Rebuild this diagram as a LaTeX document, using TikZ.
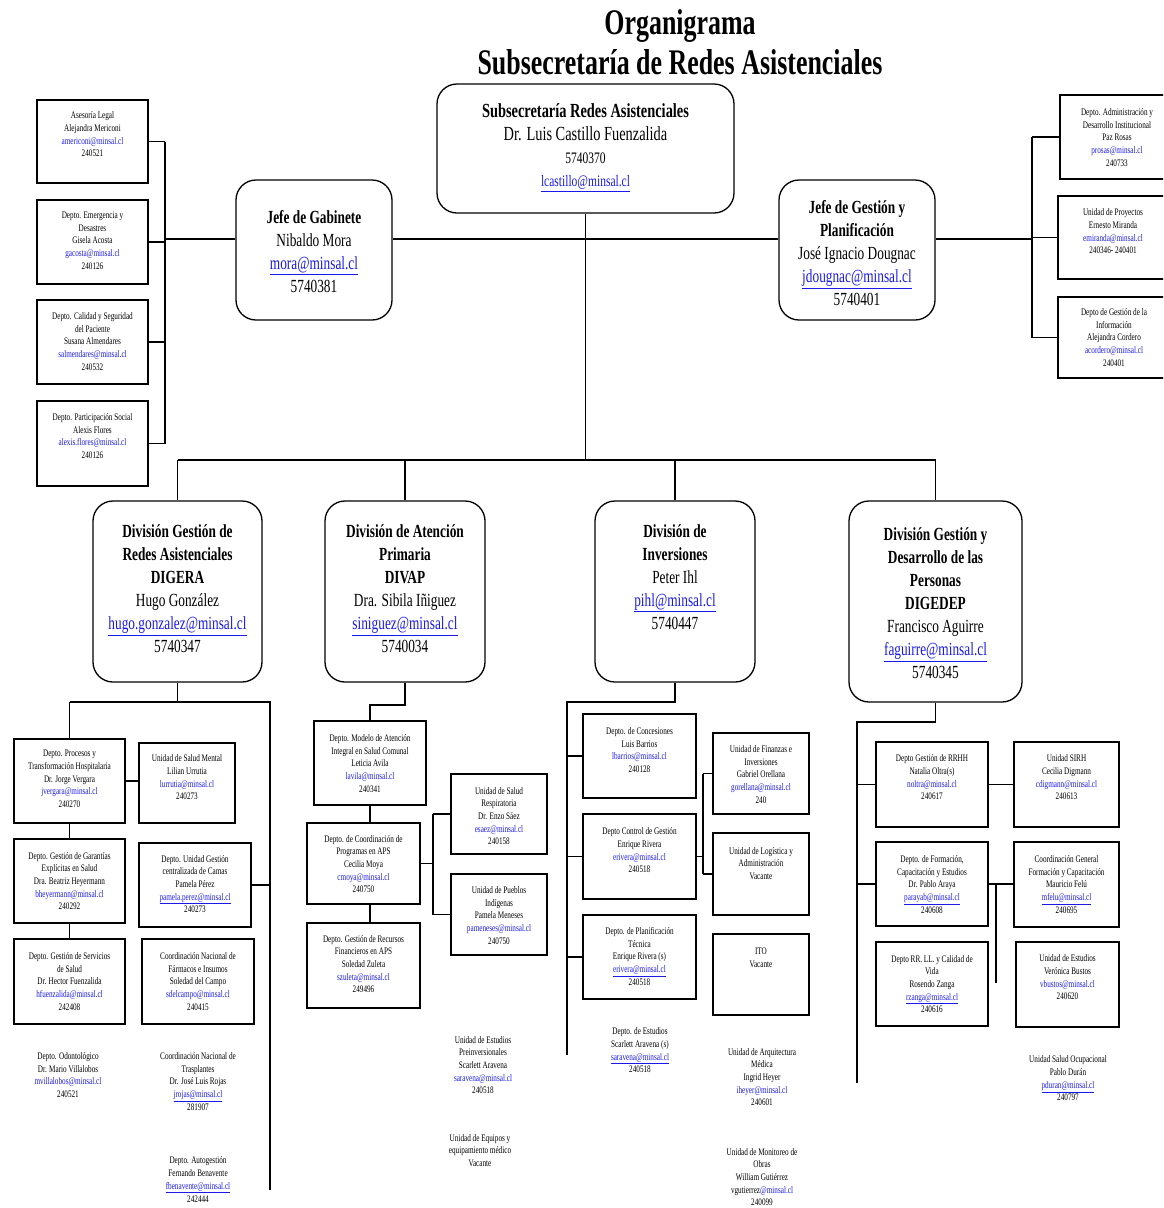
\documentclass[tikz,border=0pt]{standalone}
\usepackage{fontspec}
\setmainfont{Liberation Serif}
\newfontfamily\cf[FakeStretch=0.72]{Liberation Serif}
\definecolor{mailblue}{RGB}{25,25,235}
\newcommand{\ml}[1]{\textcolor{mailblue}{#1}}
\newcommand{\mlu}[1]{\textcolor{mailblue}{\underline{#1}}}
\newcommand{\sfnt}{\cf\fontsize{10}{12.7}\selectfont}
\newcommand{\bfnt}{\cf\fontsize{18.5}{23}\selectfont}
\newcommand{\obox}[7]{%
  \node[sbox, minimum width={#4pt-#2pt}, minimum height={#5pt-#3pt}] (#1) at ({(#2+#4)/2},{(#3+#5)/2}) {};
  \node[stxt] (#1t) at ({(#2+#4)/2},#6) {#7};}
\newcommand{\rbx}[7]{%
  \node[rbox, minimum width={#4pt-#2pt}, minimum height={#5pt-#3pt}] (#1) at ({(#2+#4)/2},{(#3+#5)/2}) {};
  \node[btxt] (#1t) at ({(#2+#4)/2},#6) {#7};}
\begin{document}
\begin{tikzpicture}[x=1pt,y=-1pt,
 sbox/.style={draw, line width=1.6pt, inner sep=0pt},
 rbox/.style={draw, line width=1.3pt, rounded corners=20pt, inner sep=0pt},
 stxt/.style={align=center, font=\sfnt, inner sep=0pt},
 btxt/.style={align=center, font=\bfnt, inner sep=0pt},
 conn/.style={line width=1.5pt}]
\useasboundingbox (0,0) rectangle (1163,1208);
\clip (0,0) rectangle (1163,1208);

\node[font=\cf\fontsize{36}{40}\selectfont\bfseries, align=center, inner sep=0pt] (title) at (680,42) {Organigrama\\Subsecretaría de Redes Asistenciales};

% ---- top level
\rbx{sub}{437}{84}{734}{213}{147.5}{{\fontsize{20}{23}\selectfont\bfseries Subsecretaría Redes Asistenciales}\\{\fontsize{20}{23}\selectfont Dr. Luis Castillo Fuenzalida}\\{\fontsize{16}{23}\selectfont 5740370}\\{\fontsize{16}{23}\selectfont\mlu{lcastillo@minsal.cl}}}
\rbx{gab}{236}{180}{392}{320}{251.5}{{\bfseries Jefe de Gabinete}\\Nibaldo Mora\\\mlu{mora@minsal.cl}\\5740381}
\rbx{ges}{779}{180}{935}{320}{253.5}{{\bfseries Jefe de Gestión y}\\{\bfseries Planificación}\\José Ignacio Dougnac\\\mlu{jdougnac@minsal.cl}\\5740401}

\obox{ase}{37}{100}{148}{183}{134.5}{Asesoría Legal\\Alejandra Mericoni\\\ml{americoni@minsal.cl}\\240521}
\obox{eme}{37}{200}{148}{284}{240.5}{Depto. Emergencia y\\Desastres\\Gisela Acosta\\\ml{gacosta@minsal.cl}\\240126}
\obox{cal}{37}{300}{148}{384}{341.5}{Depto. Calidad y Seguridad\\del Paciente\\Susana Almendares\\\ml{salmendares@minsal.cl}\\240532}
\obox{par}{37}{401}{148}{486}{436}{Depto. Participación Social\\Alexis Flores\\\ml{alexis.flores@minsal.cl}\\240126}

\obox{adm}{1060}{95}{1174}{179}{137.5}{Depto. Administración y\\Desarrollo Institucional\\Paz Rosas\\\ml{prosas@minsal.cl}\\240733}
\obox{proy}{1058}{196}{1168}{279}{231.5}{Unidad de Proyectos\\Ernesto Miranda\\\ml{emiranda@minsal.cl}\\240346- 240401}
\obox{gi}{1058}{297}{1170}{378}{337.5}{Depto de Gestión de la\\Información\\Alejandra Cordero\\\ml{acordero@minsal.cl}\\240401}

% ---- divisions
\rbx{digera}{93}{501}{262}{682}{588.5}{{\bfseries División Gestión de}\\{\bfseries Redes Asistenciales}\\{\bfseries DIGERA}\\Hugo González\\\mlu{hugo.gonzalez@minsal.cl}\\5740347}
\rbx{divap}{325}{501}{485}{682}{588.5}{{\bfseries División de Atención}\\{\bfseries Primaria}\\{\bfseries DIVAP}\\Dra. Sibila Iñiguez\\\mlu{siniguez@minsal.cl}\\5740034}
\rbx{inv}{595}{501}{755}{682}{577}{{\bfseries División de}\\{\bfseries Inversiones}\\Peter Ihl\\\mlu{pihl@minsal.cl}\\5740447}
\rbx{digedep}{849}{501}{1022}{702}{603.5}{{\bfseries División Gestión y}\\{\bfseries Desarrollo de las}\\{\bfseries Personas}\\{\bfseries DIGEDEP}\\Francisco Aguirre\\\mlu{faguirre@minsal.cl}\\5740345}

% ---- DIGERA
\obox{proc}{14}{739}{125}{823}{779}{Depto. Procesos y\\Transformación Hospitalaria\\Dr. Jorge Vergara\\\ml{jvergara@minsal.cl}\\240270}
\obox{smen}{139}{743}{235}{823}{777.5}{Unidad de Salud Mental\\Lilian Urrutia\\\ml{lurrutia@minsal.cl}\\240273}
\obox{gar}{14}{839}{125}{923}{881}{Depto. Gestión de Garantías\\Explícitas en Salud\\Dra. Beatriz Heyermann\\\ml{bheyermann@minsal.cl}\\240292}
\obox{cam}{139}{843}{251}{927}{884}{Depto. Unidad Gestión\\centralizada de Camas\\Pamela Pérez\\\mlu{pamela.perez@minsal.cl}\\240273}
\obox{serv}{14}{939}{125}{1024}{981.5}{Depto. Gestión de Servicios\\de Salud\\Dr. Hector Fuenzalida\\\ml{hfuenzalida@minsal.cl}\\242408}
\obox{far}{142}{939}{254}{1024}{981.5}{Coordinación Nacional de\\Fármacos e Insumos\\Soledad del Campo\\\ml{sdelcampo@minsal.cl}\\240415}
\node[stxt] (odo) at (68,1075) {Depto. Odontológico\\Dr. Mario Villalobos\\\ml{mvillalobos@minsal.cl}\\240521};
\node[stxt] (tra) at (198,1081.5) {Coordinación Nacional de\\Trasplantes\\Dr. José Luis Rojas\\\mlu{jrojas@minsal.cl}\\281907};
\node[stxt] (aut) at (198,1179.5) {Depto. Autogestión\\Fernando Benavente\\\mlu{fbenavente@minsal.cl}\\242444};

% ---- DIVAP
\obox{mod}{314}{721}{426}{805}{763.5}{Depto. Modelo de Atención\\Integral en Salud Comunal\\Leticia Avila\\\ml{lavila@minsal.cl}\\240341}
\obox{coo}{307}{823}{420}{904}{864}{Depto. de Coordinación de\\Programas en APS\\Cecilia Moya\\\ml{cmoya@minsal.cl}\\240750}
\obox{rec}{307}{923}{420}{1008}{964}{Depto. Gestión de Recursos\\Financieros en APS\\Soledad Zuleta\\\ml{szuleta@minsal.cl}\\249496}
\obox{resp}{451}{774}{547}{854}{816}{Unidad de Salud\\Respiratoria\\Dr. Enzo Sáez\\\ml{esaez@minsal.cl}\\240158}
\obox{pue}{451}{874}{547}{955}{915.5}{Unidad de Pueblos\\Indígenas\\Pamela Meneses\\\ml{pameneses@minsal.cl}\\240750}
\node[stxt] (epre) at (483,1065) {Unidad de Estudios\\Preinversionales\\Scarlett Aravena\\\ml{saravena@minsal.cl}\\240518};
\node[stxt] (equi) at (480,1150.5) {Unidad de Equipos y\\equipamiento médico\\Vacante};

% ---- Inversiones
\obox{conc}{583}{714}{696}{798}{750}{Depto. de Concesiones\\Luis Barrios\\\ml{lbarrios@minsal.cl}\\240128}
\obox{ctl}{583}{814}{696}{899}{850.5}{Depto Control de Gestión\\Enrique Rivera\\\ml{erivera@minsal.cl}\\240518}
\obox{pla}{583}{915}{696}{999}{956.5}{Depto. de Planificación\\Técnica\\Enrique Rivera (s)\\\mlu{erivera@minsal.cl}\\240518}
\obox{fin}{713}{733}{809}{814}{774.5}{Unidad de Finanzas e\\Inversiones\\Gabriel Orellana\\\ml{gorellana@minsal.cl}\\240}
\obox{logi}{713}{833}{809}{915}{863.5}{Unidad de Logística y\\Administración\\Vacante}
\obox{ito}{713}{934}{809}{1015}{958}{ITO\\Vacante}
\node[stxt] (dest) at (640,1050.5) {Depto. de Estudios\\Scarlett Aravena (s)\\\mlu{saravena@minsal.cl}\\240518};
\node[stxt] (arq) at (762,1077) {Unidad de Arquitectura\\Médica\\Ingrid Heyer\\\ml{iheyer@minsal.cl}\\240601};
\node[stxt] (mon) at (762,1177) {Unidad de Monitoreo de\\Obras\\William Gutiérrez\\vgutierrez\ml{@minsal.cl}\\240099};

% ---- DIGEDEP
\obox{rrhh}{876}{742}{988}{827}{777.5}{Depto Gestión de RRHH\\Natalia Oltra(s)\\\ml{noltra@minsal.cl}\\240617}
\obox{sirh}{1014}{742}{1119}{827}{777.5}{Unidad SIRH\\Cecilia Digmann\\\ml{cdigmann@minsal.cl}\\240613}
\obox{form}{876}{842}{988}{926}{884.5}{Depto. de Formación,\\Capacitación y Estudios\\Dr. Pablo Araya\\\mlu{parayab@minsal.cl}\\240608}
\obox{cg}{1014}{842}{1119}{927}{884.5}{Coordinación General\\Formación y Capacitación\\Mauricio Felú\\\mlu{mfelu@minsal.cl}\\240695}
\obox{rrll}{876}{942}{988}{1026}{984}{Depto RR. LL. y Calidad de\\Vida\\Rosendo Zanga\\\mlu{rzanga@minsal.cl}\\240616}
\obox{est}{1016}{942}{1119}{1027}{977.5}{Unidad de Estudios\\Verónica Bustos\\\ml{vbustos@minsal.cl}\\240620}
\node[stxt] (ocu) at (1068,1078.5) {Unidad Salud Ocupacional\\Pablo Durán\\\mlu{pduran@minsal.cl}\\240797};

% ---- connectors top
\coordinate (jy) at (0,239);
\coordinate (lvx) at (165,0);
\coordinate (rvx) at (1032,0);
\coordinate (bus) at (0,460);
\draw[conn] (gab.east |- jy) -- (ges.west |- jy);
\draw[conn] (sub.south) -- (sub.south |- bus);
\draw[conn] (gab.west |- jy) -- (lvx |- jy);
\draw[conn] (lvx |- ase.east) -- (lvx |- par.east);
\foreach \n in {ase,eme,cal,par} \draw[conn] (\n.east) -- (\n.east -| lvx);
\draw[conn] (ges.east |- jy) -- (rvx |- jy);
\draw[conn] (rvx |- adm.west) -- (rvx |- gi.west);
\foreach \n in {adm,proy,gi} \draw[conn] (\n.west) -- (\n.west -| rvx);
\draw[conn] (digera.north |- bus) -- (digedep.north |- bus);
\foreach \n in {digera,divap,inv,digedep} \draw[conn] (\n.north |- bus) -- (\n.north);

% ---- DIGERA connectors
\coordinate (ya) at (0,702);
\coordinate (gvx) at (270,0);
\coordinate (gend) at (270,1190);
\draw[conn] (digera.south) -- (digera.south |- ya);
\draw[conn] (proc.north |- ya) -- (gvx |- ya) -- (gend);
\draw[conn] (proc.north |- ya) -- (proc.north);
\draw[conn] (proc.east) -- (proc.east -| smen.west);
\draw[conn] (proc.south) -- (gar.north);
\draw[conn] (gar.south) -- (serv.north);
\draw[conn] (cam.east) -- (cam.east -| gvx);

% ---- DIVAP connectors
\coordinate (yb) at (0,705);
\coordinate (dvx) at (433,0);
\draw[conn] (divap.south) -- (divap.south |- yb) -| (mod.north);
\draw[conn] (mod.south) -- (mod.south |- coo.north);
\draw[conn] (mod.south |- coo.south) -- (mod.south |- rec.north);
\draw[conn] (coo.east) -- (coo.east -| dvx);
\draw[conn] (dvx |- resp.west) -- (dvx |- pue.west);
\draw[conn] (resp.west) -- (resp.west -| dvx);
\draw[conn] (pue.west) -- (pue.west -| dvx);

% ---- Inversiones connectors
\coordinate (ivx) at (567,0);
\coordinate (iend) at (567,1055);
\coordinate (fvx) at (703,0);
\draw[conn] (inv.south) -- (inv.south |- ya) -- (ivx |- ya) -- (iend);
\foreach \n in {conc,ctl,pla} \draw[conn] (ivx |- \n.west) -- (\n.west);
\draw[conn] (ctl.east) -- (ctl.east -| fvx);
\draw[conn] (fvx |- fin.west) -- (fvx |- logi.west);
\draw[conn] (fin.west) -- (fin.west -| fvx);
\draw[conn] (logi.west) -- (logi.west -| fvx);

% ---- DIGEDEP connectors
\coordinate (yc) at (0,722);
\coordinate (evx) at (857,0);
\coordinate (eend) at (857,1083);
\coordinate (cvx) at (996,0);
\coordinate (cend) at (996,983);
\draw[conn] (digedep.south) -- (digedep.south |- yc) -- (evx |- yc) -- (eend);
\draw[conn] (evx |- rrhh.west) -- (rrhh.west);
\draw[conn] (evx |- form.west) -- (form.west);
\draw[conn] (rrhh.east) -- (sirh.west);
\draw[conn] (form.east) -- (form.east -| cg.west);
\draw[conn] (cvx |- form.east) -- (cend);
\end{tikzpicture}
\end{document}
